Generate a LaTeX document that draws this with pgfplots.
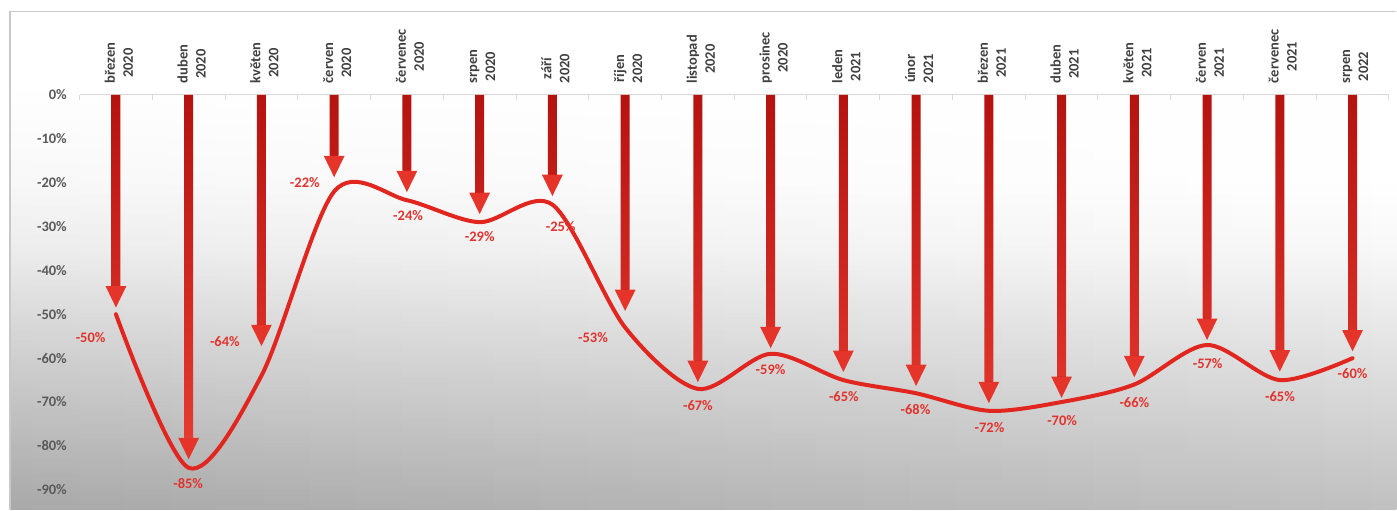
\documentclass[border=0pt]{standalone}
\usepackage{fontspec}
\setmainfont{Carlito}
\usepackage{pgfplots}
\usepackage{pgfplotstable}
\pgfplotsset{compat=1.18}
\usetikzlibrary{arrows.meta,fadings}
\definecolor{linered}{HTML}{E0261F}
\definecolor{arrowred}{HTML}{D01C16}
\definecolor{headred}{HTML}{E5352B}
\definecolor{shafttop}{HTML}{B51310}
\definecolor{shaftbot}{HTML}{E63A30}
\definecolor{labred}{HTML}{E2332D}
\definecolor{tickgray}{HTML}{595959}
\definecolor{catgray}{HTML}{404040}
\definecolor{bordergray}{HTML}{C8C8C8}
\definecolor{zerogray}{HTML}{D9D9D9}
\definecolor{bgA}{HTML}{F8F8F8}
\definecolor{bgB}{HTML}{DEDEDE}
\definecolor{bgC}{HTML}{C0C0C0}
\definecolor{bgL}{HTML}{E1E1E1}
\pgfdeclareverticalshading{bgshade}{100bp}{color(0bp)=(bgC); color(25bp)=(bgC); color(39.05bp)=(bgB); color(51.08bp)=(bgA); color(58.1bp)=(white); color(100bp)=(white)}
\tikzfading[name=bgfade, top color=transparent!100, middle color=transparent!0, bottom color=transparent!0]

\pgfplotstableread{
x y
0 -50
1 -85
2 -64
3 -22
4 -24
5 -29
6 -25
7 -53
8 -67
9 -59
10 -65
11 -68
12 -72
13 -70
14 -66
15 -57
16 -65
17 -60
}\linedata

\pgfplotstableread{
x v
0 -48.6
1 -83.2
2 -57.4
3 -18.9
4 -22.3
5 -27.3
6 -23.2
7 -49.4
8 -65.6
9 -57.9
10 -63.3
11 -66.5
12 -70.4
13 -69.2
14 -64.5
15 -56.0
16 -63.2
17 -58.6
}\arrowdata

\pgfplotstableread{
x y lab
-0.3476 -55.30 -50\%
0.9934 -88.63 -85\%
1.4977 -56.21 -64\%
2.5969 -19.89 -22\%
4.0162 -27.57 -24\%
5.0014 -32.35 -29\%
6.1143 -30.08 -25\%
6.5581 -55.21 -53\%
8.0008 -70.79 -67\%
8.9997 -62.66 -59\%
10.0069 -68.74 -65\%
10.9920 -71.77 -68\%
12.0088 -75.80 -72\%
13.0077 -74.28 -70\%
14.0011 -70.11 -66\%
15.0082 -61.13 -57\%
16.0030 -68.74 -65\%
17.0006 -63.41 -60\%
}\labdata

\pgfplotstableread{
x lab
0.0412 {březen\\2020}
1.0412 {duben\\2020}
2.0412 {květen\\2020}
3.0412 {červen\\2020}
4.0412 {červenec\\2020}
5.0412 {srpen\\2020}
6.0412 {září\\2020}
7.0412 {říjen\\2020}
8.0412 {listopad\\2020}
9.0412 {prosinec\\2020}
10.0412 {leden\\2021}
11.0412 {únor\\2021}
12.0412 {březen\\2021}
13.0412 {duben\\2021}
14.0412 {květen\\2021}
15.0412 {červen\\2021}
16.0412 {červenec\\2021}
17.0412 {srpen\\2022}
}\catdata

\begin{document}
\begin{tikzpicture}
\begin{axis}[
  set layers,
  scale only axis, width=1397pt, height=510pt,
  xmin=-1.5939, xmax=17.6010, ymin=-94.555, ymax=21.645,
  axis line style={draw=none},
  tick style={draw=none},
  xtick=\empty,
  ytick={-90,-80,...,0},
  yticklabels={-90\%,-80\%,-70\%,-60\%,-50\%,-40\%,-30\%,-20\%,-10\%,0\%},
  yticklabel style={anchor=east, inner sep=0pt, xshift=67pt, font=\fontsize{14.5}{16}\selectfont\bfseries, text=tickgray},
  clip=false,
]
\begin{pgfonlayer}{axis background}
  \shade[shading=bgshade] (rel axis cs:0.00716,0) rectangle (rel axis cs:1,0.97745);
  \begin{scope}[blend mode=multiply]
    \shade[left color=bgL, right color=white, path fading=bgfade] (rel axis cs:0.00716,0) rectangle (rel axis cs:1,0.8235);
  \end{scope}
  \draw[bordergray, line width=1.5pt] (rel axis cs:0.00716,0) -- (rel axis cs:0.00716,0.97745) -- (rel axis cs:1,0.97745);
  \draw[zerogray, line width=1pt] (axis cs:-0.5,0) -- (axis cs:17.5,0);
  \pgfplotsinvokeforeach{-0.5,0.5,...,17.5}{
    \draw[zerogray, line width=1pt] (axis cs:#1,0) -- (axis cs:#1,-1.14);
  }
\end{pgfonlayer}

\addplot[arrowred, line width=8.5pt, -{Triangle[width=19pt,length=22pt,color=headred]},
  quiver={u=0, v=\thisrow{v}}] table[x=x, y expr=0] {\arrowdata};

\addplot[ybar, bar width=9pt, bar shift=0pt, draw=none, top color=shafttop, bottom color=shaftbot]
  table[x=x, y expr=\thisrow{v}+5.05] {\arrowdata};

\addplot[linered, line width=4pt, smooth, tension=0.5, line cap=round] table[x=x, y=y] {\linedata};

\addplot[draw=none, mark=none, point meta=explicit symbolic, nodes near coords,
  nodes near coords style={anchor=center, inner sep=0pt, font=\fontsize{14.5}{16}\selectfont\bfseries, text=labred}]
  table[x=x, y=y, meta=lab] {\labdata};

\addplot[draw=none, mark=none, point meta=explicit symbolic, nodes near coords,
  nodes near coords style={rotate=90, anchor=west, inner sep=0pt, align=center, font=\fontsize{14.5}{18}\selectfont\bfseries, text=catgray}]
  table[x=x, y expr=2.62, meta=lab] {\catdata};
\end{axis}
\end{tikzpicture}
\end{document}
